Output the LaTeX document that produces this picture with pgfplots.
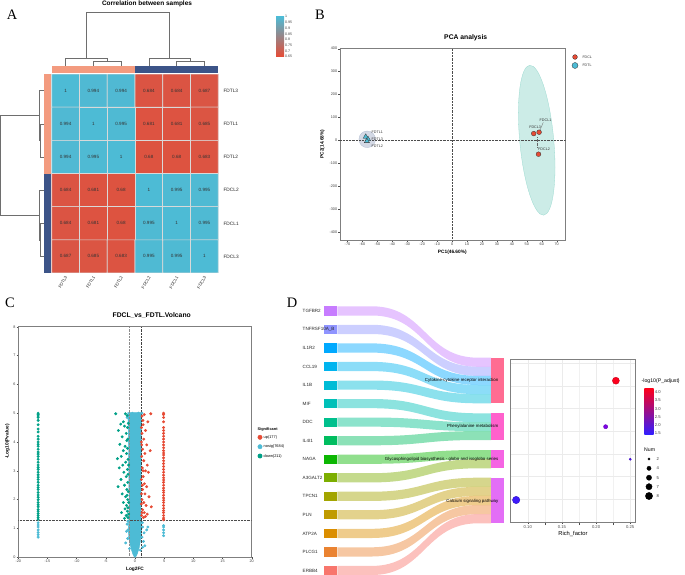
\documentclass[border=0pt]{standalone}
\usepackage{pgfplots}
\pgfplotsset{compat=1.18}
\usepackage{pgfplotstable}
\usepackage{fontspec}
\setmainfont{Liberation Sans}
\newfontfamily\panelfont{Liberation Serif}

\definecolor{npgred}{HTML}{E64B35}
\definecolor{npgblue}{HTML}{4DBBD5}
\definecolor{npggreen}{HTML}{00A087}
\definecolor{npgnavy}{HTML}{3C5488}
\definecolor{npgsalmon}{HTML}{F39B7F}
\definecolor{framegrey}{HTML}{7F7F7F}
\definecolor{dendrocol}{HTML}{6E6E6E}
\definecolor{hmmid}{RGB}{155,140,150}
\definecolor{gridgrey}{HTML}{EBEBEB}
\definecolor{bublow}{RGB}{50,30,255}
\definecolor{bubmid}{RGB}{170,0,190}
\definecolor{bubhigh}{RGB}{255,0,25}
% genes, top to bottom
\definecolor{g0}{HTML}{C77CFF}
\definecolor{g1}{HTML}{8F94FF}
\definecolor{g2}{HTML}{00A9FF}
\definecolor{g3}{HTML}{00B4EF}
\definecolor{g4}{HTML}{00BCD6}
\definecolor{g5}{HTML}{00C0B8}
\definecolor{g6}{HTML}{00C08D}
\definecolor{g7}{HTML}{00BD5F}
\definecolor{g8}{HTML}{0CB702}
\definecolor{g9}{HTML}{7CAE00}
\definecolor{g10}{HTML}{A3A500}
\definecolor{g11}{HTML}{C09B00}
\definecolor{g12}{HTML}{DB8E00}
\definecolor{g13}{HTML}{EA8331}
\definecolor{g14}{HTML}{F8766D}
% pathways
\definecolor{p0}{HTML}{FF6C92}
\definecolor{p1}{HTML}{FF61CC}
\definecolor{p2}{HTML}{F564E3}
\definecolor{p3}{HTML}{E36EF6}

\newcommand{\fs}[1]{\fontsize{#1}{#1}\selectfont}

% flow: colour, source top, source bottom, target top, target bottom
\newcommand{\flow}[5]{%
  \fill[#1, opacity=0.45] (axis cs:337.3,#2) -- (axis cs:372,#2)
    .. controls (axis cs:425,#2) and (axis cs:425,#4) .. (axis cs:478,#4)
    -- (axis cs:491,#4) -- (axis cs:491,#5) -- (axis cs:478,#5)
    .. controls (axis cs:425,#5) and (axis cs:425,#3) .. (axis cs:372,#3)
    -- (axis cs:337.3,#3) -- cycle;}
% gene box: colour, top, bottom, centre, name
\newcommand{\gene}[5]{%
  \fill[#1] (axis cs:324,#2) rectangle (axis cs:337.3,#3);
  \node[anchor=west, font=\fs{4.6}, text=black!85, inner sep=0pt] at (axis cs:302.5,#4) {#5};}

\tikzset{dendro/.style={draw=dendrocol, line width=0.5bp}}

\pgfplotsset{
  /pgf/number format/assume math mode=true,
  panel/.style={scale only axis, anchor=south west,
    axis line style={framegrey, line width=0.8pt},
    tick align=outside, tick pos=left, major tick length=1.6bp,
    tick style={black!70, line width=0.35pt},
    ticklabel style={font=\fs{3.8}, text=black!75},
    xticklabel style={inner sep=1bp}, yticklabel style={inner sep=1bp}},
  vpt/.style={only marks, mark=*, mark size=1.25bp},
}

% correlation matrix (rows/cols: FDTL3 FDTL1 FDTL2 FDCL2 FDCL1 FDCL3)
\pgfplotstableread{
x y v
0 0 1
1 0 0.994
2 0 0.994
3 0 0.684
4 0 0.684
5 0 0.687
0 1 0.994
1 1 1
2 1 0.995
3 1 0.681
4 1 0.681
5 1 0.685
0 2 0.994
1 2 0.995
2 2 1
3 2 0.68
4 2 0.68
5 2 0.683
0 3 0.684
1 3 0.681
2 3 0.68
3 3 1
4 3 0.995
5 3 0.995
0 4 0.684
1 4 0.681
2 4 0.68
3 4 0.995
4 4 1
5 4 0.995
0 5 0.687
1 5 0.685
2 5 0.683
3 5 0.995
4 5 0.995
5 5 1
}\corr

% KEGG enrichment bubbles (y in panel pixels)
\pgfplotstableread{
x y p r
0.229 380.7 4.2 3.5
0.214 426.7 2.2 2.1
0.250 459.3 1.75 1.1
0.083 500.0 1.55 3.7
}\kegg

\begin{document}
\begin{tikzpicture}
\useasboundingbox (0,0) rectangle (685bp,575bp);

% ---------- canvas for dendrograms, sankey, texts and legends ----------
\begin{axis}[at={(0,0)}, anchor=south west, scale only axis,
  width=685bp, height=575bp, xmin=0, xmax=685, ymin=0, ymax=575,
  y dir=reverse, hide axis, clip=false, no markers]
% column dendrogram
\addplot[dendro] coordinates {(93.3,66) (93.3,61) (121.2,61) (121.2,66)};
\addplot[dendro] coordinates {(65.5,66) (65.5,58.7) (107.3,58.7) (107.3,61)};
\addplot[dendro] coordinates {(86.4,58.7) (86.4,12.7) (169.7,12.7) (169.7,58.7)};
\addplot[dendro] coordinates {(176.7,66) (176.7,61) (204.5,61) (204.5,66)};
\addplot[dendro] coordinates {(148.8,66) (148.8,58.7) (190.6,58.7) (190.6,61)};
% row dendrogram
\addplot[dendro] coordinates {(44,123.8) (40.7,123.8) (40.7,157) (44,157)};
\addplot[dendro] coordinates {(44,90.6) (39.3,90.6) (39.3,140.4) (40.7,140.4)};
\addplot[dendro] coordinates {(39.3,115.5) (0.6,115.5) (0.6,215.1) (39.3,215.1)};
\addplot[dendro] coordinates {(44,223.4) (40.7,223.4) (40.7,256.6) (44,256.6)};
\addplot[dendro] coordinates {(44,190.2) (39.3,190.2) (39.3,240) (40.7,240)};
% annotation bars
\fill[npgsalmon] (axis cs:51.7,66) rectangle (axis cs:135,72.7);
\fill[npgnavy] (axis cs:135,66) rectangle (axis cs:218.3,72.7);
\fill[npgsalmon] (axis cs:44.3,74) rectangle (axis cs:50.7,173.5);
\fill[npgnavy] (axis cs:44.3,173.5) rectangle (axis cs:50.7,273);
% heatmap labels
\node[font=\bfseries\fs{6.5}] at (axis cs:147,4.2) {Correlation between samples};
\foreach \lab/\yy in {FDTL3/90.6, FDTL1/123.8, FDTL2/157, FDCL2/190.2, FDCL1/223.4, FDCL3/256.6}
  {\edef\tmp{\noexpand\node[anchor=west, font=\noexpand\fs{4.8}, text=black!85] at (axis cs:220,\yy) {\lab};}\tmp}
\foreach \lab/\xx in {FDTL3/66.5, FDTL1/94.3, FDTL2/122.2, FDCL2/149.8, FDCL1/177.7, FDCL3/205.5}
  {\edef\tmp{\noexpand\node[anchor=east, rotate=60, font=\noexpand\fs{4.3}, text=black!85, inner sep=0.5bp] at (axis cs:\xx,276) {\lab};}\tmp}
% panel letters and titles
\node[font=\panelfont\fs{14.5}] at (axis cs:12,15) {A};
\node[font=\panelfont\fs{14.5}] at (axis cs:320,15) {B};
\node[font=\panelfont\fs{14.5}] at (axis cs:10,302.5) {C};
\node[font=\panelfont\fs{14.5}] at (axis cs:292,302.5) {D};
\node[font=\bfseries\fs{6.8}] at (axis cs:465.7,38) {PCA analysis};
\node[font=\bfseries\fs{4.8}] at (axis cs:452.3,252.5) {PC1(46.60\%)};
\node[font=\bfseries\fs{4.8}, rotate=90] at (axis cs:322.5,144) {PC2(14.68\%)};
\node[font=\bfseries\fs{6.8}] at (axis cs:151.7,315) {FDCL\_vs\_FDTL.Volcano};
\node[font=\bfseries\fs{4.8}] at (axis cs:135,569.5) {Log2FC};
\node[font=\bfseries\fs{4.8}, rotate=90] at (axis cs:7.5,441.5) {-Log10(Pvalue)};
% PCA legend
\addplot[only marks, mark=*, mark size=2.4bp, mark options={fill=npgred, draw=black!80, line width=0.3pt}] coordinates {(575,57)};
\addplot[only marks, mark=triangle*, mark size=3bp, mark options={fill=npgblue, draw=black!80, line width=0.3pt}] coordinates {(575,65.5)};
\node[anchor=west, font=\fs{3.6}, text=black!80] at (axis cs:579,57) {FDCL};
\node[anchor=west, font=\fs{3.6}, text=black!80] at (axis cs:579,65.5) {FDTL};
% volcano legend
\node[anchor=west, font=\bfseries\fs{3.9}, inner sep=0pt] at (axis cs:257.5,429.5) {Significant};
\addplot[only marks, mark=*, mark size=2.2bp, npgred] coordinates {(260,437.3)};
\addplot[only marks, mark=*, mark size=2.2bp, npgblue] coordinates {(260,446.7)};
\addplot[only marks, mark=*, mark size=2.2bp, npggreen] coordinates {(260,456)};
\node[anchor=west, font=\fs{3.9}, inner sep=0pt] at (axis cs:263.5,437.3) {up(177)};
\node[anchor=west, font=\fs{3.9}, inner sep=0pt] at (axis cs:263.5,446.7) {nosig(7684)};
\node[anchor=west, font=\fs{3.9}, inner sep=0pt] at (axis cs:263.5,456) {down(211)};
% sankey flows
\flow{g0}{306.3}{315.5}{357.7}{366.8}
\flow{g1}{324.8}{334.0}{366.8}{375.9}
\flow{g2}{343.4}{352.6}{375.9}{385.0}
\flow{g3}{361.9}{371.1}{385.0}{394.2}
\flow{g4}{380.5}{389.7}{394.2}{403.3}
\flow{g5}{399.0}{408.2}{413.3}{422.2}
\flow{g6}{417.5}{426.7}{422.2}{431.1}
\flow{g7}{436.1}{445.3}{431.1}{440.0}
\flow{g8}{454.6}{463.8}{450.0}{459.2}
\flow{g9}{473.2}{482.4}{459.2}{468.3}
\flow{g10}{491.7}{500.9}{477.7}{486.8}
\flow{g11}{510.2}{519.4}{486.8}{495.9}
\flow{g12}{528.8}{538.0}{495.9}{505.0}
\flow{g13}{547.3}{556.5}{505.0}{514.1}
\flow{g14}{565.9}{575.0}{514.1}{523.3}
% gene boxes
\gene{g0}{306.3}{315.5}{310.9}{TGFBR2}
\gene{g1}{324.8}{334.0}{329.4}{TNFRSF10A\_B}
\gene{g2}{343.4}{352.6}{348.0}{IL1R2}
\gene{g3}{361.9}{371.1}{366.5}{CCL19}
\gene{g4}{380.5}{389.7}{385.1}{IL1B}
\gene{g5}{399.0}{408.2}{403.6}{MIF}
\gene{g6}{417.5}{426.7}{422.1}{DDC}
\gene{g7}{436.1}{445.3}{440.7}{IL4I1}
\gene{g8}{454.6}{463.8}{459.2}{NAGA}
\gene{g9}{473.2}{482.4}{477.8}{A3GALT2}
\gene{g10}{491.7}{500.9}{496.3}{TPCN1}
\gene{g11}{510.2}{519.4}{514.8}{PLN}
\gene{g12}{528.8}{538.0}{533.4}{ATP2A}
\gene{g13}{547.3}{556.5}{551.9}{PLCG1}
\gene{g14}{565.9}{575.0}{570.5}{ERBB4}
% pathway boxes and names
\fill[p0] (axis cs:491,357.7) rectangle (axis cs:504,403.3);
\fill[p1] (axis cs:491,413.3) rectangle (axis cs:504,440.0);
\fill[p2] (axis cs:491,450.0) rectangle (axis cs:504,468.3);
\fill[p3] (axis cs:491,477.7) rectangle (axis cs:504,523.3);
\node[anchor=east, font=\fs{4.4}, inner sep=0pt] at (axis cs:498.5,380.7) {Cytokine-cytokine receptor interaction};
\node[anchor=east, font=\fs{4.4}, inner sep=0pt] at (axis cs:498.5,426.7) {Phenylalanine metabolism};
\node[anchor=east, font=\fs{4.4}, inner sep=0pt] at (axis cs:498.5,459.3) {Glycosphingolipid biosynthesis - globo and isoglobo series};
\node[anchor=east, font=\fs{4.4}, inner sep=0pt] at (axis cs:498.5,501) {Calcium signaling pathway};
% bubble legends
\node[anchor=west, font=\fs{5.2}, inner sep=0pt] at (axis cs:641.5,381) {-log10(P\_adjust)};
\node[anchor=west, font=\fs{5.2}, inner sep=0pt] at (axis cs:644,449.3) {Num};
\addplot[only marks, mark=*, mark size=1.1bp, black] coordinates {(649,459)};
\addplot[only marks, mark=*, mark size=2.1bp, black] coordinates {(649,468.3)};
\addplot[only marks, mark=*, mark size=2.6bp, black] coordinates {(649,477.7)};
\addplot[only marks, mark=*, mark size=3.1bp, black] coordinates {(649,486.7)};
\addplot[only marks, mark=*, mark size=3.6bp, black] coordinates {(649,496)};
\node[anchor=west, font=\fs{4.2}, inner sep=0pt, text=black!80] at (axis cs:656.5,459) {2};
\node[anchor=west, font=\fs{4.2}, inner sep=0pt, text=black!80] at (axis cs:656.5,468.3) {4};
\node[anchor=west, font=\fs{4.2}, inner sep=0pt, text=black!80] at (axis cs:656.5,477.7) {5};
\node[anchor=west, font=\fs{4.2}, inner sep=0pt, text=black!80] at (axis cs:656.5,486.7) {7};
\node[anchor=west, font=\fs{4.2}, inner sep=0pt, text=black!80] at (axis cs:656.5,496) {8};
\node[font=\fs{5.8}] at (axis cs:573,533.7) {Rich\_factor};
\end{axis}

% ---------- A: correlation heatmap ----------
\begin{axis}[at={(51.7bp,302bp)}, anchor=south west, scale only axis,
  width=166.6bp, height=199bp, xmin=-0.5, xmax=5.5, ymin=-0.5, ymax=5.5,
  y dir=reverse, hide axis,
  colormap={corr}{rgb255=(230,75,53) rgb255=(155,140,150) rgb255=(77,187,213)},
  point meta min=0.66, point meta max=1]
\addplot[matrix plot, shader=faceted, faceted color=white!85!black, line width=0.6bp,
  mesh/cols=6, point meta=explicit] table[x=x, y=y, meta=v] {\corr};
\addplot[draw=none, mark=none, nodes near coords, point meta=explicit symbolic,
  every node near coord/.style={anchor=center, font=\fs{4.6}, text=black!80}]
  table[x=x, y=y, meta=v] {\corr};
\end{axis}
% heatmap colour key
\begin{axis}[at={(276bp,518.3bp)}, anchor=south west, scale only axis,
  width=8bp, height=40bp, xmin=0, xmax=1, ymin=0.65, ymax=1,
  axis line style={draw=none}, xtick=\empty,
  ytick={0.65,0.7,0.75,0.8,0.85,0.9,0.95,1}, ytick pos=right, yticklabel pos=right,
  ytick style={draw=none}, yticklabel style={font=\fs{3.6}, text=black!75, inner sep=1bp}]
\shade[bottom color=npgred, middle color=hmmid, top color=npgblue] (axis cs:0,0.65) rectangle (axis cs:1,1);
\end{axis}

% ---------- B: PCA ----------
\begin{axis}[panel, at={(340bp,335bp)}, width=225.7bp, height=191.3bp,
  xmin=-75, xmax=76, ymin=-436, ymax=400,
  xtick={-70,-60,...,70}, ytick={-400,-300,...,400}]
\fill[npgnavy!22, draw=npgnavy!40, line width=0.3pt] (axis cs:-56.8,4) ellipse [x radius=8.3bp, y radius=8.3bp];
\fill[npggreen!20, draw=npggreen!40, line width=0.3pt, rotate around={5.3:(axis cs:56.6,0)}]
  (axis cs:56.6,0) ellipse [x radius=17bp, y radius=75.3bp];
\addplot[densely dotted, black!70, line width=0.45pt] coordinates {(0,-436) (0,400)};
\addplot[densely dotted, black!70, line width=0.45pt] coordinates {(-75,0) (76,0)};
\addplot[black!60, line width=0.3pt] coordinates {(58.2,35) (61,78)};
\addplot[densely dotted, black!60, line width=0.3pt] coordinates {(57,12) (57,-28)};
\addplot[only marks, mark=*, mark size=2.4bp, mark options={fill=npgred, draw=black!80, line width=0.3pt}]
  coordinates {(54.6,29) (58.2,35) (57.8,-61)};
\addplot[only marks, mark=triangle*, mark size=3bp, mark options={fill=npgblue, draw=black!80, line width=0.3pt}]
  coordinates {(-57.8,15) (-56.3,5) (-57,-4)};
\node[anchor=west, font=\fs{3.7}, text=black!80, inner sep=0pt] at (axis cs:58.5,88) {FDCL1};
\node[anchor=west, font=\fs{3.7}, text=black!80, inner sep=0pt] at (axis cs:51.5,58) {FDCL3};
\node[anchor=west, font=\fs{3.7}, text=black!80, inner sep=0pt] at (axis cs:57.5,-38) {FDCL2};
\node[anchor=west, font=\fs{3.7}, text=black!80, inner sep=0pt] at (axis cs:-54,36) {FDTL1};
\node[anchor=west, font=\fs{3.7}, text=black!80, inner sep=0pt] at (axis cs:-54,5) {FDTL3};
\node[anchor=west, font=\fs{3.7}, text=black!80, inner sep=0pt] at (axis cs:-54,-25) {FDTL2};
\end{axis}

% ---------- C: volcano ----------
\begin{axis}[panel, at={(18.3bp,17.7bp)}, width=233.4bp, height=230.6bp,
  xmin=-20, xmax=20, ymin=0, ymax=8,
  xtick={-20,-15,...,20}, ytick={0,1,...,8}]
\addplot[fill=npgblue, draw=npgblue, line width=0.4pt] coordinates {
  (-1.25,5.02) (-1.15,4.5) (-1.1,3.5) (-1.05,2.5) (-1.0,1.8) (-1.05,1.3)
  (-1.15,1.0) (-1.1,0.7) (-0.85,0.45) (-0.6,0.25) (-0.35,0.1) (-0.15,0.02)
  (0.05,0) (0.25,0.05) (0.45,0.15) (0.75,0.35) (0.95,0.6) (1.15,0.9)
  (1.05,1.3) (1.0,2.0) (1.05,3.0) (1.1,4.0) (1.15,5.02)} -- cycle;
\addplot[vpt, npgblue] coordinates {
  (-16.6,0.7) (-16.6,0.78) (-16.6,0.86) (-16.6,0.95) (-16.6,1.05) (-16.6,1.12) (-16.6,1.2)
  (4.9,0.75) (4.9,0.85) (4.9,0.95) (4.9,1.05) (4.9,1.1)
  (-1.35,1.15) (-1.45,0.9) (-1.25,0.65) (-1.6,0.5) (1.3,1.05) (1.55,0.85) (2.2,1.05)
  (1.45,0.55) (1.3,0.35) (2.0,0.95) (1.7,0.4) (-0.45,5.0) (0.6,5.0) (-1.35,4.85)
  (1.2,5.0) (-1.2,1.25) (1.25,1.2) (-1.2,0.95) (1.2,0.7) (-0.95,0.3) (0.9,0.25)};
\addplot[vpt, npggreen] coordinates {
  (-16.6,1.32) (-16.6,1.38) (-16.6,1.45) (-16.6,1.52) (-16.6,1.6) (-16.6,1.66)
  (-16.6,1.75) (-16.6,1.82) (-16.6,1.9) (-16.6,2.0) (-16.6,2.08) (-16.6,2.16)
  (-16.6,2.25) (-16.6,2.35) (-16.6,2.42) (-16.6,2.5) (-16.6,2.6) (-16.6,2.7)
  (-16.6,2.78) (-16.6,2.86) (-16.6,2.95) (-16.6,3.05) (-16.6,3.12) (-16.6,3.2)
  (-16.6,3.3) (-16.6,3.4) (-16.6,3.5) (-16.6,3.58) (-16.6,3.65) (-16.6,3.75)
  (-16.6,3.85) (-16.6,3.92) (-16.6,4.0) (-16.6,4.1) (-16.6,4.2) (-16.6,4.35)
  (-16.6,4.45) (-16.6,4.6) (-16.6,4.75) (-16.6,4.85) (-16.6,4.9) (-16.6,4.95) (-16.6,5.0)
  (-3.3,4.98) (-1.65,4.98) (-1.35,4.92) (-2.0,4.7) (-2.45,4.62) (-1.8,4.55) (-1.3,4.5)
  (-2.85,4.4) (-1.5,4.3) (-2.2,4.18) (-1.25,4.1) (-2.6,3.92) (-1.7,3.85) (-1.3,3.78)
  (-2.0,3.7) (-1.45,3.6) (-2.35,3.5) (-3.0,3.42) (-1.2,3.4) (-1.6,3.3) (-2.1,3.2)
  (-2.7,3.1) (-1.3,3.05) (-1.9,2.95) (-1.2,2.88) (-1.5,2.8) (-2.4,2.7) (-1.25,2.6)
  (-1.8,2.5) (-2.9,2.45) (-1.4,2.35) (-1.15,2.28) (-2.2,2.2) (-1.6,2.1) (-1.25,2.0)
  (-2.0,1.9) (-1.45,1.8) (-1.2,1.72) (-1.7,1.68) (-1.3,1.6) (-2.3,1.55) (-1.5,1.45)
  (-1.2,1.38) (-1.8,1.35) (-1.1,1.5) (-1.15,4.65) (-1.4,4.05) (-1.1,3.2) (-1.35,2.15) (-1.1,1.9)};
\addplot[vpt, npgred] coordinates {
  (4.9,1.3) (4.9,1.36) (4.9,1.45) (4.9,1.55) (4.9,1.62) (4.9,1.7) (4.9,1.8)
  (4.9,1.9) (4.9,1.98) (4.9,2.06) (4.9,2.15) (4.9,2.25) (4.9,2.32) (4.9,2.4)
  (4.9,2.5) (4.9,2.6) (4.9,2.68) (4.9,2.76) (4.9,2.85) (4.9,2.95) (4.9,3.05)
  (4.9,3.15) (4.9,3.25) (4.9,3.35) (4.9,3.45) (4.9,3.55) (4.9,3.62) (4.9,3.7)
  (4.9,3.8) (4.9,3.9) (4.9,4.0) (4.9,4.1) (4.9,4.2) (4.9,4.3) (4.9,4.4) (4.9,4.5)
  (4.9,4.7) (4.9,4.85) (4.9,4.95) (4.9,5.0)
  (2.7,4.98) (1.6,4.95) (1.2,4.9) (2.2,4.7) (1.4,4.6) (1.1,4.5) (1.8,4.4) (1.2,4.3)
  (1.5,4.1) (2.0,3.9) (1.3,3.75) (2.6,3.7) (1.7,3.6) (1.15,3.5) (1.5,3.35) (2.1,3.2)
  (1.25,3.1) (1.8,3.0) (2.3,2.95) (1.4,2.8) (1.1,2.7) (1.6,2.55) (2.0,2.45) (1.3,2.35)
  (1.7,2.2) (2.4,2.1) (1.2,2.0) (1.5,1.9) (1.9,1.8) (2.8,1.75) (1.3,1.65) (1.6,1.55)
  (2.1,1.5) (1.15,1.45) (1.45,1.38) (1.8,1.42) (1.1,1.85) (1.1,4.0) (1.25,2.5)
  (1.15,3.9) (1.35,4.75) (1.1,2.2) (1.4,3.0) (1.2,1.55)};
\addplot[densely dotted, black!70, line width=0.45pt] coordinates {(-20,1.3) (20,1.3)};
\addplot[densely dotted, black!45, line width=0.45pt] coordinates {(-1,0) (-1,8)};
\addplot[densely dotted, black!75, line width=0.45pt] coordinates {(1,0) (1,8)};
\end{axis}

% ---------- D: enrichment bubbles ----------
\begin{axis}[at={(510.7bp,52.7bp)}, anchor=south west, scale only axis,
  width=124.3bp, height=163.3bp, xmin=0.075, xmax=0.257, ymin=359, ymax=522.3,
  y dir=reverse, axis line style={framegrey, line width=0.8pt},
  xtick={0.10,0.15,0.20,0.25}, xticklabels={0.10,0.15,0.20,0.25},
  minor xtick={0.125,0.175,0.225},
  ytick={363.3,386,408.3,431,454,476.7,499.3}, yticklabels={,,,,,,},
  ytick style={draw=none}, xtick pos=bottom, tick align=outside,
  major tick length=1.6bp, xtick style={black!70, line width=0.35pt},
  xticklabel style={font=\fs{4.2}, text=black!70, inner sep=1bp},
  grid=both, major grid style={gridgrey, line width=0.5pt},
  minor grid style={gridgrey!70, line width=0.3pt},
  colormap={bub}{rgb255=(50,30,255) rgb255=(140,0,225) rgb255=(205,0,150) rgb255=(255,0,25)},
  point meta min=1.42, point meta max=4.245]
\addplot[scatter, only marks, mark=*, scatter src=explicit,
  visualization depends on={\thisrow{r} \as \rad},
  scatter/@pre marker code/.append style={/tikz/mark size=\rad}]
  table[x=x, y=y, meta=p] {\kegg};
\end{axis}
% bubble colour key
\begin{axis}[at={(644.3bp,140.7bp)}, anchor=south west, scale only axis,
  width=9.4bp, height=46bp, xmin=0, xmax=1, ymin=1.42, ymax=4.245,
  axis line style={draw=none}, xtick=\empty,
  ytick={1.5,2,2.5,3,3.5,4}, yticklabels={1.5,2.0,2.5,3.0,3.5,4.0},
  ytick pos=both, yticklabel pos=right, tick align=inside, major tick length=1.8bp,
  ytick style={white, line width=0.4pt},
  yticklabel style={font=\fs{4.2}, text=black!75, inner sep=1bp}]
\shade[bottom color=bublow, middle color=bubmid, top color=bubhigh] (axis cs:0,1.42) rectangle (axis cs:1,4.245);
\end{axis}
\end{tikzpicture}
\end{document}
